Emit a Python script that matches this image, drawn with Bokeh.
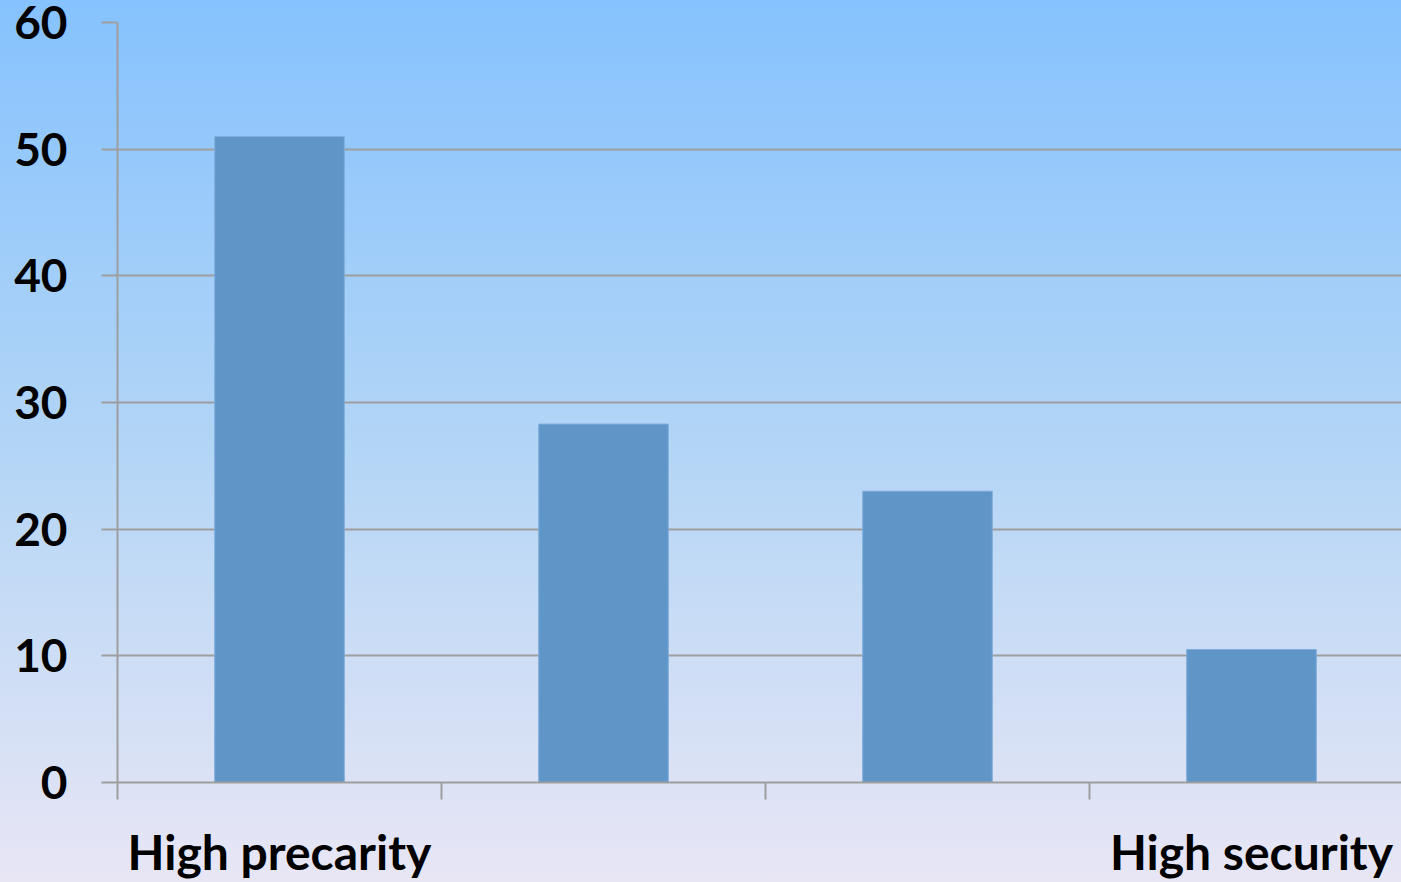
from bokeh.plotting import figure
from bokeh.models import Range1d, FixedTicker
from bokeh.embed import file_html
from bokeh.resources import INLINE

# ---- data ----
categories = ["High precarity", "", "", "High security"]
values = [51, 28.3, 23, 10.5]
y_ticks = [0, 10, 20, 30, 40, 50, 60]

# positions from category index (centres of category slots)
xs = [i + 0.5 for i in range(len(categories))]
boundaries = [i for i in range(len(categories))]

p = figure(width=1401, height=882, output_backend="svg", toolbar_location=None,
           x_range=Range1d(0, 3.963), y_range=Range1d(0, 60),
           min_border_left=117, min_border_right=0, min_border_top=22,
           min_border_bottom=100)

p.styles = {"background": "linear-gradient(to bottom, #86C2FE 0%, #B2D5F6 50%, #E8E6F5 100%)"}
p.background_fill_alpha = 0
p.border_fill_alpha = 0
p.outline_line_color = None

p.vbar(x=xs, top=values, bottom=0, width=0.4,
       fill_color="#6095C8", line_color="#7FAEDC", line_width=1)

font = "Lato"
grid_col = "#9E9E9E"

# y axis
p.yaxis.ticker = FixedTicker(ticks=y_ticks)
p.yaxis.major_tick_out = 16
p.yaxis.major_tick_in = 0
p.yaxis.minor_tick_out = 0
p.yaxis.minor_tick_in = 0
p.yaxis.axis_line_color = grid_col
p.yaxis.axis_line_width = 2
p.yaxis.major_tick_line_color = grid_col
p.yaxis.major_tick_line_width = 2
p.yaxis.major_label_standoff = 34
p.yaxis.major_label_text_font = font
p.yaxis.major_label_text_font_style = "bold"
p.yaxis.major_label_text_font_size = "46px"
p.yaxis.major_label_text_color = "black"

# x axis
p.xaxis.ticker = FixedTicker(ticks=xs, minor_ticks=boundaries)
p.xaxis.major_label_overrides = {x: c for x, c in zip(xs, categories)}
p.xaxis.major_tick_out = 0
p.xaxis.major_tick_in = 0
p.xaxis.minor_tick_out = 17
p.xaxis.minor_tick_in = 0
p.xaxis.minor_tick_line_color = grid_col
p.xaxis.minor_tick_line_width = 2
p.xaxis.axis_line_color = grid_col
p.xaxis.axis_line_width = 2
p.xaxis.major_label_standoff = 23
p.xaxis.major_label_text_font = font
p.xaxis.major_label_text_font_style = "bold"
p.xaxis.major_label_text_font_size = "48px"
p.xaxis.major_label_text_color = "black"

# grid
p.xgrid.grid_line_color = None
p.ygrid.ticker = FixedTicker(ticks=y_ticks)
p.ygrid.grid_line_color = grid_col
p.ygrid.grid_line_width = 2

open("out.html", "w").write(file_html(p, INLINE))
